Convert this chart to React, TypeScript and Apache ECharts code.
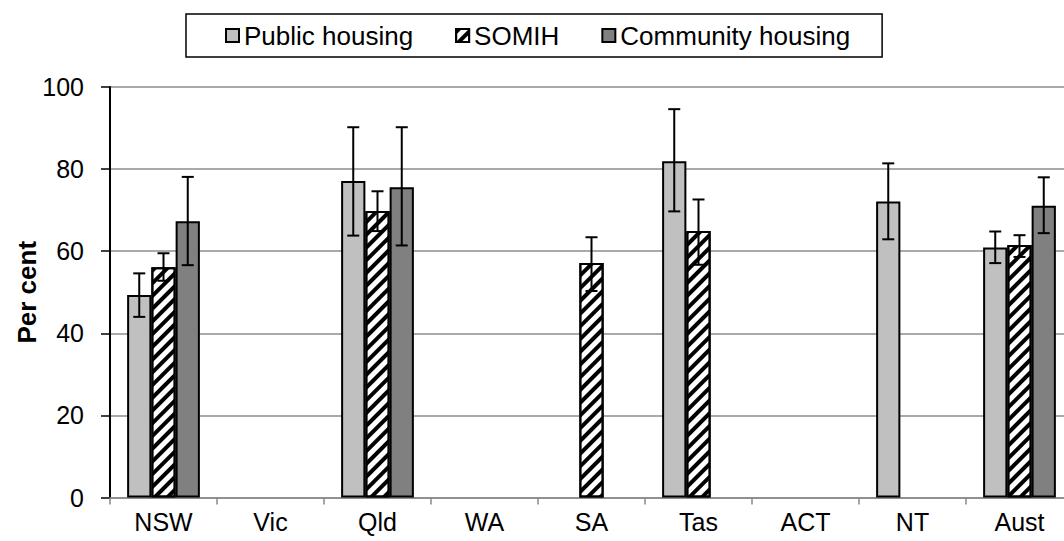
import React, { useEffect, useRef } from "react";
import * as echarts from "echarts";

const categories = ["NSW", "Vic", "Qld", "WA", "SA", "Tas", "ACT", "NT", "Aust"];
const yTicks = [0, 20, 40, 60, 80, 100];

const publicHousing = [49.3, null, 77.1, null, null, 81.9, null, 72.1, 60.9];
const publicLow = [44.0, null, 63.8, null, null, 69.7, null, 62.9, 57.1];
const publicHigh = [54.6, null, 90.2, null, null, 94.6, null, 81.4, 64.8];

const somih = [56.1, null, 69.8, null, 57.1, 64.9, null, null, 61.5];
const somihLow = [52.8, null, 64.9, null, 50.3, 56.7, null, null, 58.6];
const somihHigh = [59.5, null, 74.6, null, 63.4, 72.6, null, null, 63.9];

const community = [67.3, null, 75.6, null, null, null, null, null, 71.1];
const communityLow = [56.6, null, 61.4, null, null, null, null, null, 64.4];
const communityHigh = [78.1, null, 90.2, null, null, null, null, null, 78.0];

const seriesNames = ["Public housing", "SOMIH", "Community housing"];

const FONT = "Liberation Sans, Arial, sans-serif";
const CAT_GAP = 0.32;

function toBar(arr: (number | null)[]) {
  return arr.map((v) => (v == null ? "-" : v));
}

function toErr(low: (number | null)[], high: (number | null)[]) {
  const out: number[][] = [];
  low.forEach((l, i) => {
    const h = high[i];
    if (l != null && h != null) out.push([i, l, h]);
  });
  return out;
}

function errSeries(name: string, slot: number, data: number[][]) {
  return {
    type: "custom",
    name,
    z: 10,
    silent: true,
    data,
    renderItem: (params: any, api: any) => {
      const idx = api.value(0);
      const lo = api.coord([idx, api.value(1)]);
      const hi = api.coord([idx, api.value(2)]);
      const band = api.size([1, 0])[0];
      const bw = (band * (1 - CAT_GAP)) / 3;
      const x = lo[0] + (slot - 1) * bw;
      const cap = 6;
      const st = { stroke: "#000", lineWidth: 2 };
      return {
        type: "group",
        children: [
          { type: "line", shape: { x1: x, y1: hi[1], x2: x, y2: lo[1] }, style: st },
          { type: "line", shape: { x1: x - cap, y1: hi[1], x2: x + cap, y2: hi[1] }, style: st },
          { type: "line", shape: { x1: x - cap, y1: lo[1], x2: x + cap, y2: lo[1] }, style: st },
        ],
      };
    },
  };
}

export default function App() {
  const ref = useRef<HTMLDivElement>(null);
  useEffect(() => {
    if (!ref.current) return;
    const chart = echarts.init(ref.current, undefined, { renderer: "svg" });
    const barCommon = {
      type: "bar",
      barGap: "0%",
      barCategoryGap: CAT_GAP * 100 + "%",
    };
    chart.setOption({
      animation: false,
      textStyle: { fontFamily: FONT },
      legend: {
        data: seriesNames.map((n) => ({ name: n, icon: "rect" })),
        top: 14,
        left: 186,
        orient: "horizontal",
        borderColor: "#000",
        borderWidth: 1.5,
        borderRadius: 0,
        padding: [8, 32, 8, 39],
        itemGap: 42,
        itemWidth: 13,
        itemHeight: 13,
        textStyle: { fontSize: 26, color: "#000", fontFamily: FONT, lineHeight: 27 },
      },
      grid: {
        left: 110,
        right: -9,
        top: 87,
        bottom: 43.5,
        containLabel: false,
        outerBoundsMode: "none",
      },
      xAxis: {
        type: "category",
        data: categories,
        axisLine: { lineStyle: { color: "#888", width: 1.5 } },
        axisTick: { show: true, length: 7, lineStyle: { color: "#888", width: 1.5 } },
        axisLabel: { fontSize: 25, color: "#000", margin: 12, fontFamily: FONT },
      },
      yAxis: {
        type: "value",
        min: 0,
        max: 100,
        interval: 20,
        name: "Per cent",
        nameLocation: "middle",
        nameGap: 70,
        nameRotate: 90,
        nameMoveOverlap: false,
        nameTextStyle: { fontSize: 26, fontWeight: "bold", color: "#000", fontFamily: FONT },
        axisLine: { show: true, lineStyle: { color: "#000", width: 2 } },
        axisTick: { show: true, length: 9, lineStyle: { color: "#000", width: 1.5 } },
        axisLabel: {
          fontSize: 25,
          color: "#000",
          margin: 26,
          fontFamily: FONT,
          formatter: (v: number) => (yTicks.includes(v) ? String(v) : ""),
        },
        splitLine: { show: true, lineStyle: { color: "#8c8c8c", width: 1.5 } },
      },
      series: [
        {
          ...barCommon,
          name: seriesNames[0],
          data: toBar(publicHousing),
          itemStyle: { color: "#c0c0c0", borderColor: "#000", borderWidth: 2 },
        },
        {
          ...barCommon,
          name: seriesNames[1],
          data: toBar(somih),
          itemStyle: {
            color: "#fff",
            borderColor: "#000",
            borderWidth: 2,
            decal: {
              symbol: "rect",
              symbolSize: 1,
              color: "#000",
              dashArrayX: [1, 0],
              dashArrayY: [4, 5],
              rotation: -Math.PI / 4,
            },
          },
        },
        {
          ...barCommon,
          name: seriesNames[2],
          data: toBar(community),
          itemStyle: { color: "#808080", borderColor: "#000", borderWidth: 2 },
        },
        errSeries("err0", 0, toErr(publicLow, publicHigh)),
        errSeries("err1", 1, toErr(somihLow, somihHigh)),
        errSeries("err2", 2, toErr(communityLow, communityHigh)),
      ],
    });
    return () => chart.dispose();
  }, []);
  return (
    <div
      ref={ref}
      style={{ position: "absolute", left: 0, top: 0, width: 1064, height: 541, background: "#fff" }}
    />
  );
}
